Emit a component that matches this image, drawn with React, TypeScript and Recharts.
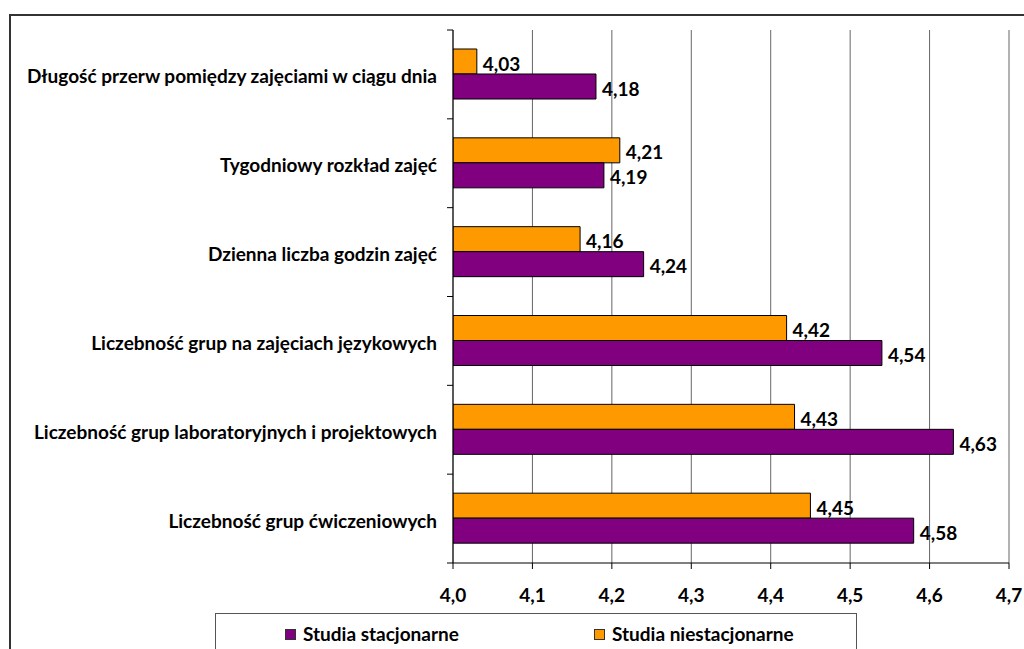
import React from "react";
import {
  BarChart,
  Bar,
  XAxis,
  YAxis,
  CartesianGrid,
  LabelList,
  Legend,
} from "recharts";

const categories = [
  "Długość przerw pomiędzy zajęciami w ciągu dnia",
  "Tygodniowy rozkład zajęć",
  "Dzienna liczba godzin zajęć ",
  "Liczebność grup na zajęciach językowych",
  "Liczebność grup laboratoryjnych i projektowych",
  "Liczebność grup ćwiczeniowych",
];
const stacjonarne = [4.18, 4.19, 4.24, 4.54, 4.63, 4.58];
const niestacjonarne = [4.03, 4.21, 4.16, 4.42, 4.43, 4.45];
const xTicks = [4.0, 4.1, 4.2, 4.3, 4.4, 4.5, 4.6, 4.7];
const seriesNames = ["Studia stacjonarne", "Studia niestacjonarne"];

const PURPLE = "#800080";
const ORANGE = "#FF9900";
const FONT = "Lato, 'Open Sans', sans-serif";
const FS = 19;

const W = 1024;
const H = 649;
const MARGIN = { top: 30, right: 15, bottom: 46, left: 0 };
const X_AXIS_H = 40;
const Y_AXIS_W = 453;
const PLOT_H = H - MARGIN.top - MARGIN.bottom - X_AXIS_H;

const data = categories.map((name, i) => ({
  name,
  stac: stacjonarne[i],
  niestac: niestacjonarne[i],
}));

const fmt = (v: number, d = 2) => v.toFixed(d).replace(".", ",");

const CatTick = (props: any) => {
  const { x, y, payload, index } = props;
  const band = PLOT_H / categories.length;
  const ax = x + 16;
  return (
    <g>
      <line x1={ax - 6} x2={ax} y1={y - band / 2} y2={y - band / 2} stroke="#000" />
      {index === categories.length - 1 && (
        <line x1={ax - 6} x2={ax} y1={y + band / 2} y2={y + band / 2} stroke="#000" />
      )}
      <text
        x={x}
        y={y + 9}
        textAnchor="end"
        fontFamily={FONT}
        fontWeight="bold"
        fontSize={FS}
        fill="#000"
      >
        {payload.value}
      </text>
    </g>
  );
};

const renderValue = (p: any) => {
  const x = Number(p.x);
  const y = Number(p.y);
  const width = Number(p.width);
  const height = Number(p.height);
  return (
    <text
      x={x + width + 6}
      y={y + height / 2 + 9}
      fontFamily={FONT}
      fontWeight="bold"
      fontSize={FS}
      fill="#000"
    >
      {fmt(Number(p.value))}
    </text>
  );
};

const legendColors = [PURPLE, ORANGE];
const legendLeft = [69, 378];

const renderLegend = () => (
  <div
    style={{
      position: "relative",
      width: 642,
      height: 60,
      border: "1px solid #555",
      background: "#fff",
      boxSizing: "border-box",
      fontFamily: FONT,
      fontWeight: 700,
      fontSize: FS,
      color: "#000",
    }}
  >
    {seriesNames.map((n, i) => (
      <div
        key={n}
        style={{
          position: "absolute",
          left: legendLeft[i],
          top: 9,
          height: 22,
          lineHeight: "22px",
          display: "flex",
          alignItems: "center",
          whiteSpace: "nowrap",
        }}
      >
        <span
          style={{
            display: "inline-block",
            width: 11,
            height: 11,
            background: legendColors[i],
            border: "1px solid #333",
            boxSizing: "border-box",
            marginRight: 7,
          }}
        />
        <span>{n}</span>
      </div>
    ))}
  </div>
);

export default function App() {
  return (
    <div
      style={{
        position: "absolute",
        left: 0,
        top: 0,
        width: W,
        height: H,
        overflow: "hidden",
        background: "#fff",
      }}
    >
      <div
        style={{
          position: "absolute",
          left: 9,
          top: 14,
          width: 1100,
          height: 800,
          borderLeft: "2px solid #333",
          borderTop: "2px solid #333",
        }}
      />
      <div style={{ position: "absolute", left: 0, top: 0 }}>
        <BarChart
          width={W}
          height={H}
          data={data}
          layout="vertical"
          margin={MARGIN}
          barGap={0}
          barSize={25}
        >
          <CartesianGrid horizontal={false} vertical stroke="#666" />
          <XAxis
            type="number"
            domain={[4, 4.7]}
            ticks={xTicks}
            allowDataOverflow
            height={X_AXIS_H}
            tickSize={6}
            tickMargin={20}
            axisLine={{ stroke: "#000" }}
            tickLine={{ stroke: "#000" }}
            tickFormatter={(v: number) => fmt(v, 1)}
            tick={{ fontFamily: FONT, fontWeight: "bold", fontSize: FS, fill: "#000" }}
          />
          <XAxis
            xAxisId="top"
            orientation="top"
            type="number"
            domain={[4, 4.7]}
            height={0}
            tick={false}
            tickLine={false}
            axisLine={{ stroke: "#8c8c8c", strokeWidth: 2 }}
          />
          <YAxis
            type="category"
            dataKey="name"
            width={Y_AXIS_W}
            tickSize={6}
            tickMargin={10}
            tickLine={false}
            axisLine={{ stroke: "#000" }}
            tick={<CatTick />}
            interval={0}
          />
          <Legend
            layout="horizontal"
            verticalAlign="middle"
            align="center"
            content={renderLegend}
            wrapperStyle={{ left: 215, top: 613, width: 642, height: 60 }}
          />
          <Bar
            dataKey="niestac"
            name={seriesNames[1]}
            fill={ORANGE}
            stroke="#000"
            strokeWidth={1}
            isAnimationActive={false}
          >
            <LabelList dataKey="niestac" content={renderValue} />
          </Bar>
          <Bar
            dataKey="stac"
            name={seriesNames[0]}
            fill={PURPLE}
            stroke="#000"
            strokeWidth={1}
            isAnimationActive={false}
          >
            <LabelList dataKey="stac" content={renderValue} />
          </Bar>
        </BarChart>
      </div>
    </div>
  );
}
